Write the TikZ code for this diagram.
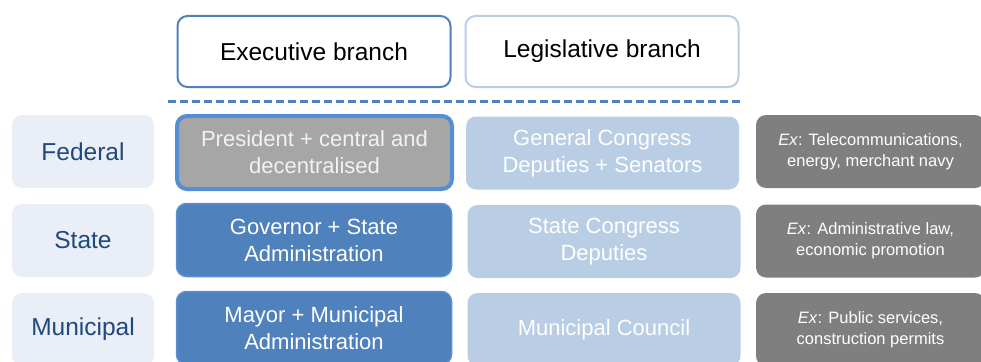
\documentclass[tikz,border=0pt]{standalone}
\usepackage{fontspec}
\setmainfont{Liberation Sans}
\usetikzlibrary{positioning}
\definecolor{headblue}{RGB}{79,129,189}
\definecolor{headlight}{RGB}{185,205,229}
\definecolor{lvlfill}{RGB}{234,238,246}
\definecolor{lvltext}{RGB}{31,73,125}
\definecolor{presfill}{RGB}{166,166,166}
\definecolor{presline}{RGB}{85,142,213}
\definecolor{govfill}{RGB}{79,129,189}
\definecolor{govline}{RGB}{91,143,212}
\definecolor{congfill}{RGB}{185,205,229}
\definecolor{exfill}{RGB}{127,127,127}
\begin{document}
\begin{tikzpicture}[x=1pt,y=-1pt,
head/.style={draw,line width=2pt,rounded corners=10pt,fill=white,minimum width=273pt,minimum height=71pt,font=\fontsize{24.5}{29}\selectfont},
lvl/.style={fill=lvlfill,text=lvltext,rounded corners=10pt,minimum width=142pt,minimum height=73pt,font=\fontsize{24.5}{29}\selectfont},
body/.style={rounded corners=10pt,minimum width=275pt,minimum height=73pt,align=center,text=white,font=\fontsize{22}{27}\selectfont},
ex/.style={fill=exfill,rounded corners=10pt,minimum width=229pt,minimum height=73pt,align=center,text=white,font=\fontsize{16.5}{21}\selectfont}]
\useasboundingbox (0,0) rectangle (981,361);
\clip (0,0) rectangle (981,361);
\node[head,draw=headblue] (EB) at (314,51.5) {Executive branch};
\node[head,draw=headlight] (LB) at (602,51.5) {Legislative branch};
\coordinate (D1) at (168,101);
\coordinate (D2) at (741,101);
\draw[headblue,line width=3pt,dash pattern=on 8pt off 4pt] (D1) -- (D2);
\node[lvl] (F) at (83,151.5) {Federal};
\node[lvl] (S) at (83,240.5) {State};
\node[lvl] (M) at (83,329.5) {Municipal};
\node[body,fill=presfill,draw=presline,line width=4pt,text=white!95!black] (P) at (314.5,152.5) {President + central and\\decentralised};
\node[body,fill=govfill,draw=govline,line width=1.5pt] (G) at (314,240) {Governor + State\\Administration};
\node[body,fill=govfill,draw=govline,line width=1.5pt] (MA) at (314,328) {Mayor + Municipal\\Administration};
\node[body,fill=congfill,minimum width=273pt] (GC) at (602.5,153) {General Congress\\Deputies + Senators};
\node[body,fill=congfill,minimum width=273pt] (SC) at (604,241.5) {State Congress\\Deputies};
\node[body,fill=congfill,minimum width=273pt] (MC) at (604,329.5) {Municipal Council};
\node[ex] (X1) at (870.5,151.5) {\textit{Ex}: Telecommunications,\\energy, merchant navy};
\node[ex] (X2) at (870.5,241) {\textit{Ex}: Administrative law,\\economic promotion};
\node[ex] (X3) at (870.5,329.5) {\textit{Ex}: Public services,\\construction permits};
\end{tikzpicture}
\end{document}
